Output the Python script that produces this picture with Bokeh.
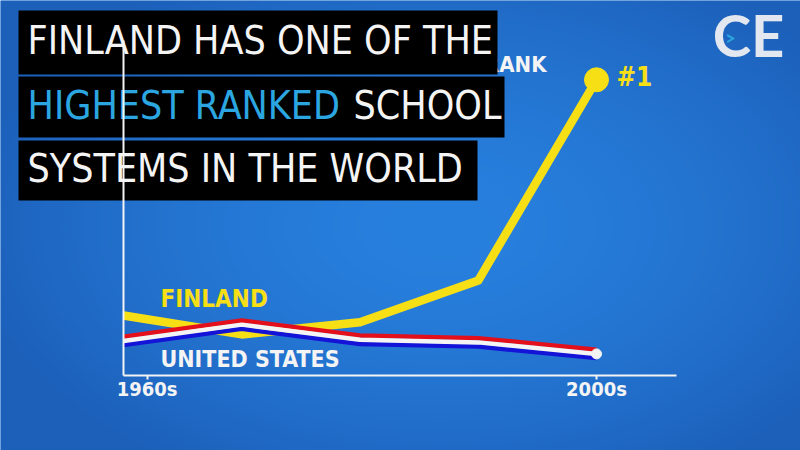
import numpy as np
from bokeh.plotting import figure
from bokeh.models import LinearAxis, FixedTicker, ColumnDataSource
from bokeh.transform import dodge
from bokeh.core.properties import value
from bokeh.embed import file_html
from bokeh.resources import INLINE

# ---------------- data ----------------
decades = [1960, 1970, 1980, 1990, 2000]
finland = [20.3, 13.9, 18.0, 32.1, 100.0]
united_states = [11.7, 17.2, 12.1, 11.2, 7.3]
tick_positions = [1962, 2000]
tick_labels = ["1960s", "2000s"]
title_line1 = "FINLAND HAS ONE OF THE"
title_line2a = "HIGHEST RANKED"
title_line2b = "SCHOOL"
title_line3 = "SYSTEMS IN THE WORLD"
series_names = ["FINLAND", "UNITED STATES"]
rank_label = "RANK"
top_label = "#1"

# ---------------- layout helpers (page pixel -> data) ----------------
W, H = 800, 450
X0, XS = 1960, 11.825     # px per year; 1960 sits at page x 123
YS = 2.957                # px per index unit; 0 sits at page y 375
K = 0.42                  # observed baseline shift of rendered text, in em


def dx(px):
    return X0 + (px - 123) / XS


def dy(py):
    return (375 - py) / YS


def base(py, size):
    # data y that puts the text baseline at page y `py`
    return dy(py - K * size)


NARROW = "'DejaVu Sans Condensed', 'Liberation Sans Narrow', sans-serif"
YELLOW = "#F7DF16"
RED = "#E3101C"
BLUE = "#1414D8"
WHITE = "#F4F4F4"
CYAN = "#2BA6E0"

p = figure(width=W, height=H, x_range=(dx(0), dx(W)), y_range=(dy(H), dy(0)),
           x_axis_type=None, y_axis_type=None, output_backend="svg",
           toolbar_location=None, min_border=0)
p.outline_line_color = None
p.background_fill_color = "#2274D0"
p.border_fill_color = "#2274D0"

# background vignette
ny, nx = 113, 200
yy, xx = np.mgrid[0:ny, 0:nx]
r = np.sqrt(((xx / (nx - 1)) - 0.55) ** 2 / 0.6 ** 2 + ((yy / (ny - 1)) - 0.5) ** 2 / 0.65 ** 2)
t = np.clip(r, 0, 1) ** 1.6
c0 = np.array([40, 128, 222])
c1 = np.array([28, 96, 186])
rgb = (c0[None, None, :] * (1 - t[..., None]) + c1[None, None, :] * t[..., None]).astype(np.uint8)
img = np.empty((ny, nx), dtype=np.uint32)
view = img.view(dtype=np.uint8).reshape((ny, nx, 4))
view[..., :3] = rgb
view[..., 3] = 255
p.image_rgba(image=[img], x=dx(0), y=dy(H), dw=dx(W) - dx(0), dh=dy(0) - dy(H))

# axes placed inside the frame
xaxis = LinearAxis(fixed_location=0, bounds=(decades[0], dx(676)),
                   ticker=FixedTicker(ticks=tick_positions),
                   major_label_overrides={k: v for k, v in zip(tick_positions, tick_labels)})
xaxis.axis_line_color = WHITE
xaxis.axis_line_width = 2
xaxis.major_tick_line_color = WHITE
xaxis.major_tick_line_width = 2
xaxis.major_tick_in = 0
xaxis.major_tick_out = 4
xaxis.minor_tick_line_color = None
xaxis.major_label_text_color = WHITE
xaxis.major_label_text_font = NARROW
xaxis.major_label_text_font_style = "bold"
xaxis.major_label_text_font_size = "20px"
xaxis.major_label_standoff = -3
p.add_layout(xaxis, "below")

yaxis = LinearAxis(fixed_location=decades[0], bounds=(0, dy(40)),
                   ticker=FixedTicker(ticks=[]))
yaxis.axis_line_color = WHITE
yaxis.axis_line_width = 2
yaxis.major_tick_line_color = None
yaxis.minor_tick_line_color = None
yaxis.major_label_text_font_size = "0px"
p.add_layout(yaxis, "left")

# y-axis label partly hidden behind the title box
p.text(x=[dx(546)], y=[base(73, 22)], text=[rank_label], text_align="right",
       text_baseline="alphabetic", text_color=WHITE, text_font=value(NARROW),
       text_font_style="bold", text_font_size="22px")

# series
src = ColumnDataSource(dict(x=decades, fin=finland, us=united_states))
p.line("x", "fin", source=src, line_color=YELLOW, line_width=8.5, line_join="round")
off = 4.2 / YS
p.line("x", dodge("us", -off, range=p.y_range), source=src, line_color=BLUE, line_width=4.5, line_join="round")
p.line("x", dodge("us", off, range=p.y_range), source=src, line_color=RED, line_width=4.5, line_join="round")
p.line("x", "us", source=src, line_color=WHITE, line_width=4.5, line_join="round")
p.scatter(x=[decades[-1]], y=[finland[-1]], size=24, color=YELLOW)
p.scatter(x=[decades[-1]], y=[united_states[-1]], size=10, color=WHITE)

# labels
p.text(x=[dx(616)], y=[base(87, 26)], text=[top_label], text_color=YELLOW, text_font=value(NARROW),
       text_font_style="bold", text_font_size="26px", text_baseline="alphabetic")
p.text(x=[dx(160)], y=[base(309, 24)], text=[series_names[0]], text_color=YELLOW, text_font=value(NARROW),
       text_font_style="bold", text_font_size="24px", text_baseline="alphabetic")
p.text(x=[dx(160)], y=[base(368, 23)], text=[series_names[1]], text_color=WHITE, text_font=value(NARROW),
       text_font_style="bold", text_font_size="23px", text_baseline="alphabetic")

# title boxes
p.quad(left=[dx(18), dx(18), dx(18)], right=[dx(497), dx(504), dx(477)],
       top=[dy(10), dy(76), dy(140)], bottom=[dy(74), dy(137), dy(200)],
       fill_color="black", line_color=None)
TSZ = 39
TS = f"{TSZ}px"
p.text(x=[dx(27)], y=[base(56, TSZ)], text=[title_line1], text_color=WHITE, text_font=value(NARROW),
       text_font_size=TS, text_baseline="alphabetic")
p.text(x=[dx(27)], y=[base(121, TSZ)], text=[title_line2a], text_color=CYAN, text_font=value(NARROW),
       text_font_size=TS, text_baseline="alphabetic")
p.text(x=[dx(353)], y=[base(121, TSZ)], text=[title_line2b], text_color=WHITE, text_font=value(NARROW),
       text_font_size=TS, text_baseline="alphabetic")
p.text(x=[dx(27)], y=[base(184, TSZ)], text=[title_line3], text_color=WHITE, text_font=value(NARROW),
       text_font_size=TS, text_baseline="alphabetic")

# logo
p.text(x=[dx(748)], y=[base(58, 58)], text=["CE"], text_color="#E3E7EF", text_font=value("Lato"),
       text_font_style="bold", text_font_size="58px", text_align="center", text_baseline="alphabetic")
p.text(x=[dx(730)], y=[base(45, 18)], text=[">"], text_color="#2BA6E0", text_font=value("Lato"),
       text_font_style="bold", text_font_size="18px", text_align="center", text_baseline="alphabetic")

open("out.html", "w").write(file_html(p, INLINE))
